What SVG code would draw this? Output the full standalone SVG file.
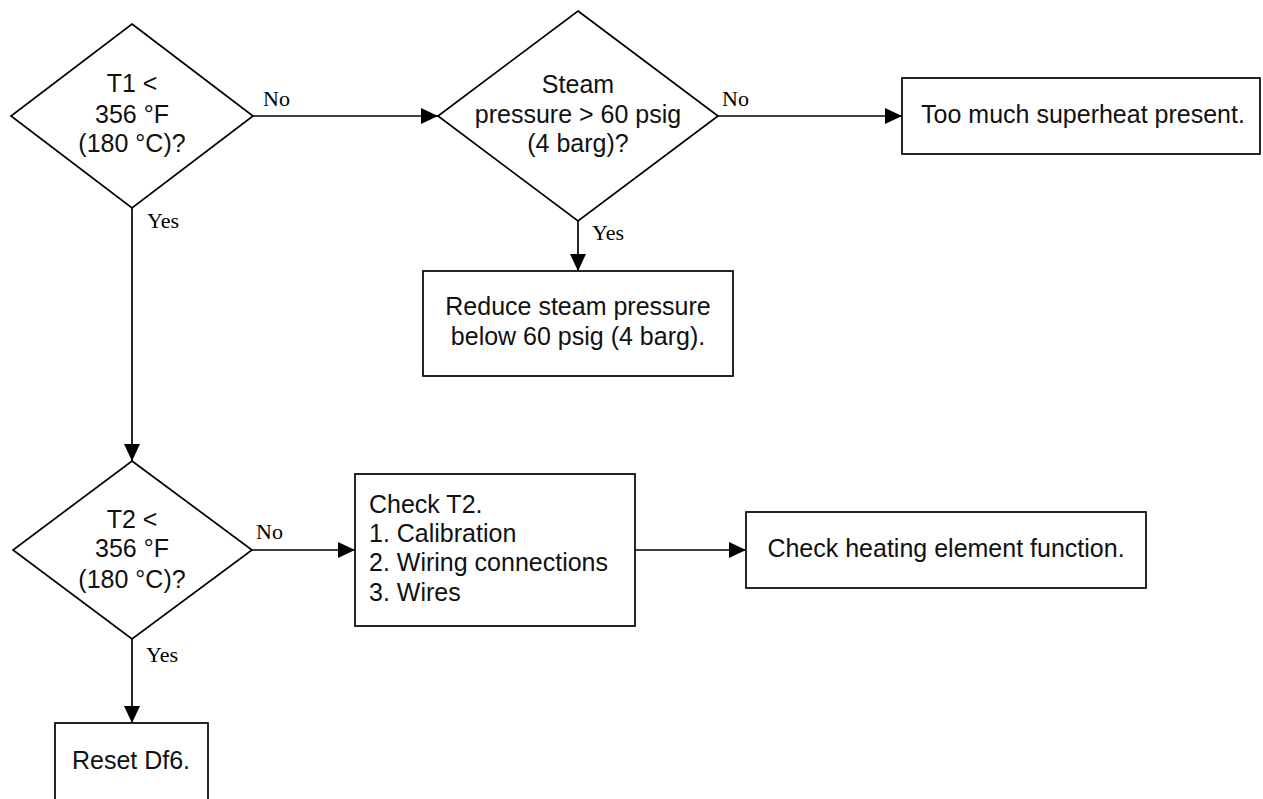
<svg xmlns="http://www.w3.org/2000/svg" width="1263" height="799" viewBox="0 0 1263 799">
<style>
.shape{fill:#fff;stroke:#000;stroke-width:1.7}
.t{font-family:"Liberation Sans",Arial,sans-serif;font-size:25px;fill:#111}
.c{text-anchor:middle}
.lbl{font-family:"Liberation Serif","Times New Roman",serif;font-size:22px;fill:#000}
.conn{fill:none;stroke:#000;stroke-width:1.7}
</style>
<defs>
<marker id="arr" markerUnits="userSpaceOnUse" markerWidth="18" markerHeight="16" refX="17" refY="8" orient="auto">
<path d="M0,0 L17,8 L0,16 z" fill="#000"/>
</marker>
</defs>
<rect width="1263" height="799" fill="#fff"/>
<g id="connectors">
<line class="conn" x1="253" y1="116" x2="438" y2="116" marker-end="url(#arr)"/>
<line class="conn" x1="718" y1="116" x2="902" y2="116" marker-end="url(#arr)"/>
<line class="conn" x1="578" y1="221" x2="578" y2="271" marker-end="url(#arr)"/>
<line class="conn" x1="132" y1="208" x2="132" y2="461" marker-end="url(#arr)"/>
<line class="conn" x1="252" y1="550" x2="355" y2="550" marker-end="url(#arr)"/>
<line class="conn" x1="635" y1="550" x2="746" y2="550" marker-end="url(#arr)"/>
<line class="conn" x1="132" y1="639" x2="132" y2="723" marker-end="url(#arr)"/>
<text class="lbl" x="263" y="106">No</text>
<text class="lbl" x="147" y="228">Yes</text>
<text class="lbl" x="722" y="106">No</text>
<text class="lbl" x="592" y="240">Yes</text>
<text class="lbl" x="256" y="539">No</text>
<text class="lbl" x="146" y="662">Yes</text>
</g>
<g id="d1">
<polygon class="shape" points="132,24 253,116 132,208 11,116"/>
<text class="t c" x="132" y="92">T1 &lt;</text>
<text class="t c" x="132" y="123">356 °F</text>
<text class="t c" x="132" y="152">(180 °C)?</text>
</g>
<g id="d2">
<polygon class="shape" points="578,11 718,116 578,221 438,116"/>
<text class="t c" x="578" y="93">Steam</text>
<text class="t c" x="578" y="123">pressure &gt; 60 psig</text>
<text class="t c" x="578" y="152">(4 barg)?</text>
</g>
<g id="b_superheat">
<rect class="shape" x="902" y="78" width="358" height="76"/>
<text class="t c" x="1083" y="123">Too much superheat present.</text>
</g>
<g id="b_reduce">
<rect class="shape" x="423" y="271" width="310" height="105"/>
<text class="t c" x="578" y="315">Reduce steam pressure</text>
<text class="t c" x="578" y="345">below 60 psig (4 barg).</text>
</g>
<g id="d3">
<polygon class="shape" points="132,461 252,550 132,639 13,550"/>
<text class="t c" x="132" y="528">T2 &lt;</text>
<text class="t c" x="132" y="557">356 °F</text>
<text class="t c" x="132" y="588">(180 °C)?</text>
</g>
<g id="b_check">
<rect class="shape" x="355" y="474" width="280" height="152"/>
<text class="t" x="369" y="513">Check T2.</text>
<text class="t" x="369" y="542">1. Calibration</text>
<text class="t" x="369" y="571">2. Wiring connections</text>
<text class="t" x="369" y="601">3. Wires</text>
</g>
<g id="b_heating">
<rect class="shape" x="746" y="512" width="400" height="76"/>
<text class="t c" x="946" y="557">Check heating element function.</text>
</g>
<g id="b_reset">
<rect class="shape" x="55" y="723" width="153" height="100"/>
<text class="t c" x="131" y="769">Reset Df6.</text>
</g>
</svg>
